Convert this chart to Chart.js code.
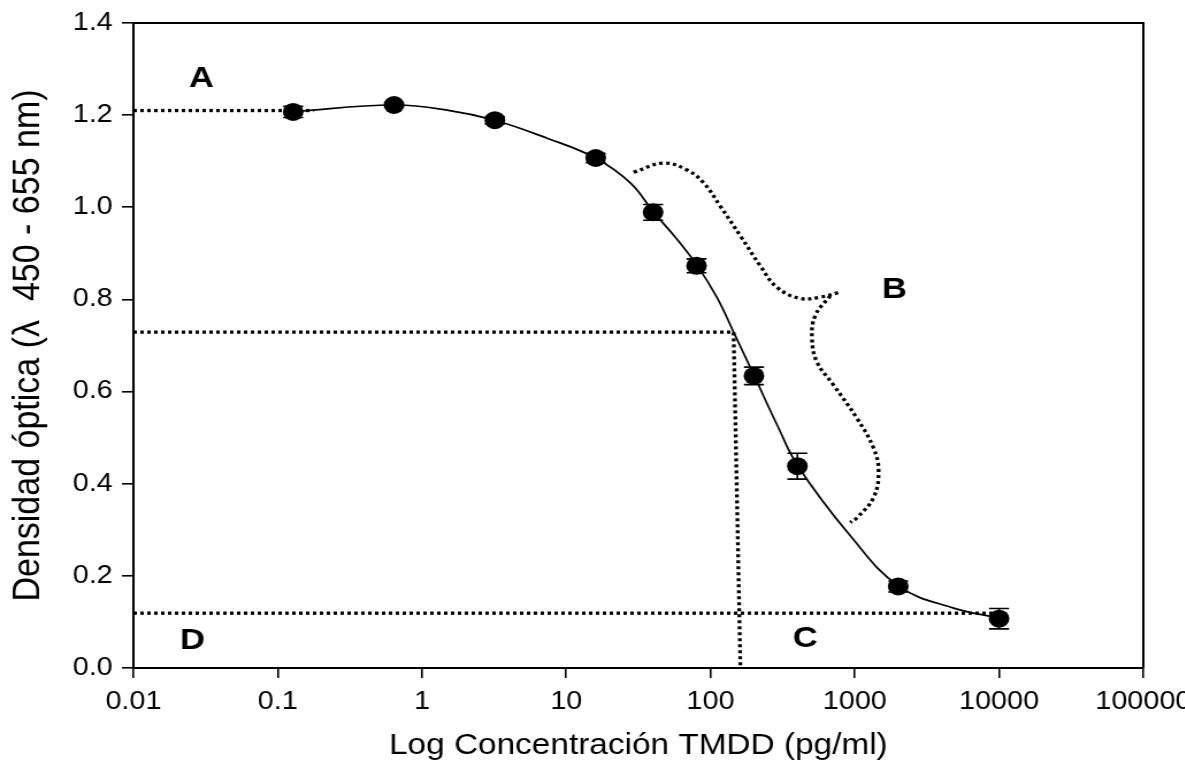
<!DOCTYPE html>
<html lang="es">
<head>
  <meta charset="UTF-8" />
  <title>Curva estándar TMDD</title>
  <script src="https://cdn.jsdelivr.net/npm/chart.js"></script>
  <style>
    html, body {
      margin: 0;
      padding: 0;
      background: #ffffff;
      overflow: hidden;
    }
    #wrap {
      width: 1185px;
      height: 775px;
      overflow: hidden;
    }
    canvas {
      display: block;
    }
  </style>
</head>
<body>
  <div id="wrap">
    <!-- drawn a bit narrow, then stretched sideways like the original figure -->
    <canvas id="curve" width="1045" height="775" style="width:1202px;height:775px"></canvas>
  </div>

  <script>
    // measured standards
    const concentration = [0.128, 0.64, 3.2, 16, 40, 80, 200, 400, 2000, 10000];
    const opticalDensity = [1.207, 1.222, 1.189, 1.107, 0.989, 0.873, 0.634, 0.438, 0.177, 0.107];
    const densityError = [0.012, 0.005, 0.008, 0.010, 0.017, 0.015, 0.019, 0.028, 0.012, 0.022];

    // fitted curve
    const fitX = [0.128, 0.637, 1.49, 3.19, 7.36, 15.9, 27.8, 40.4, 57, 80.6, 111, 144.5, 201, 289, 404, 931, 2034, 4840, 10190];
    const fitY = [1.208, 1.222, 1.211, 1.189, 1.150, 1.107, 1.053, 0.989, 0.935, 0.874, 0.804, 0.729, 0.634, 0.528, 0.438, 0.287, 0.177, 0.130, 0.108];

    // dotted guide lines
    const topGuideX = [0.01, 0.177];
    const topGuideY = [1.21, 1.21];
    const midGuideX = [0.01, 144.5, 161];
    const midGuideY = [0.729, 0.729, 0.005];
    const lowGuideX = [0.01, 9120];
    const lowGuideY = [0.119, 0.119];

    // dotted brace next to B
    const braceTopX = [29.3, 47.3, 68.7, 89.6, 117, 161, 221, 289, 419, 577, 773];
    const braceTopY = [1.076, 1.096, 1.081, 1.053, 1.002, 0.938, 0.873, 0.826, 0.802, 0.805, 0.815];
    const braceLowX = [676, 532, 505, 547, 713, 1035, 1350, 1462, 1350, 1035, 931];
    const braceLowY = [0.808, 0.765, 0.715, 0.664, 0.614, 0.542, 0.477, 0.427, 0.370, 0.326, 0.316];

    // region letters
    const letterText = ['A', 'B', 'C', 'D'];
    const letterX = [0.0296, 1879, 454, 0.0257];
    const letterY = [1.279, 0.822, 0.063, 0.060];

    // axes
    const xTickValues = [0.01, 0.1, 1, 10, 100, 1000, 10000, 100000];
    const xTickLabels = ['0.01', '0.1', '1', '10', '100', '1000', '10000', '100000'];
    const yTickValues = [0, 0.2, 0.4, 0.6, 0.8, 1.0, 1.2, 1.4];

    const fontFamily = '"Liberation Sans", Arial, Helvetica, sans-serif';

    const pairs = (xs, ys) => xs.map((x, i) => ({ x: x, y: ys[i] }));

    const dotted = {
      showLine: true,
      borderColor: '#000000',
      borderWidth: 3.3,
      borderDash: [3, 3],
      pointRadius: 0,
      fill: false,
      order: 3
    };

    const errorBars = {
      id: 'errorBars',
      afterDatasetsDraw(chart) {
        const ctx = chart.ctx;
        const meta = chart.getDatasetMeta(0);
        const yScale = chart.scales.y;
        ctx.save();
        ctx.strokeStyle = '#000000';
        ctx.lineWidth = 1.6;
        meta.data.forEach((pt, i) => {
          const hi = yScale.getPixelForValue(opticalDensity[i] + densityError[i]);
          const lo = yScale.getPixelForValue(opticalDensity[i] - densityError[i]);
          ctx.beginPath();
          ctx.moveTo(pt.x, hi);
          ctx.lineTo(pt.x, lo);
          ctx.moveTo(pt.x - 8.7, hi);
          ctx.lineTo(pt.x + 8.7, hi);
          ctx.moveTo(pt.x - 8.7, lo);
          ctx.lineTo(pt.x + 8.7, lo);
          ctx.stroke();
        });
        ctx.restore();
      }
    };

    const letters = {
      id: 'letters',
      afterDatasetsDraw(chart) {
        const ctx = chart.ctx;
        ctx.save();
        ctx.fillStyle = '#000000';
        ctx.font = 'bold 30px ' + fontFamily;
        ctx.textAlign = 'center';
        ctx.textBaseline = 'middle';
        letterText.forEach((t, i) => {
          ctx.fillText(t, chart.scales.x.getPixelForValue(letterX[i]), chart.scales.y.getPixelForValue(letterY[i]));
        });
        ctx.restore();
      }
    };

    // top and right edges of the box
    const frame = {
      id: 'frame',
      afterDraw(chart) {
        const a = chart.chartArea;
        const ctx = chart.ctx;
        ctx.save();
        ctx.strokeStyle = '#000000';
        ctx.lineWidth = 2;
        ctx.beginPath();
        ctx.moveTo(a.left, a.top);
        ctx.lineTo(a.right, a.top);
        ctx.lineTo(a.right, a.bottom);
        ctx.stroke();
        ctx.restore();
      }
    };

    const ctx = document.getElementById('curve').getContext('2d');

    new Chart(ctx, {
      type: 'scatter',
      data: {
        datasets: [
          {
            label: 'Estándares',
            data: pairs(concentration, opticalDensity),
            pointRadius: 9,
            pointHoverRadius: 9,
            pointBackgroundColor: '#000000',
            pointBorderColor: '#000000',
            pointBorderWidth: 0,
            showLine: false,
            order: 0
          },
          {
            label: 'Ajuste',
            data: pairs(fitX, fitY),
            showLine: true,
            borderColor: '#000000',
            borderWidth: 1.7,
            pointRadius: 0,
            tension: 0.4,
            order: 1
          },
          Object.assign({ label: 'A', data: pairs(topGuideX, topGuideY) }, dotted),
          Object.assign({ label: 'IC50', data: pairs(midGuideX, midGuideY) }, dotted),
          Object.assign({ label: 'D', data: pairs(lowGuideX, lowGuideY) }, dotted),
          Object.assign({ label: 'B1', data: pairs(braceTopX, braceTopY), tension: 0.4 }, dotted),
          Object.assign({ label: 'B2', data: pairs(braceLowX, braceLowY), tension: 0.4 }, dotted)
        ]
      },
      options: {
        responsive: false,
        animation: false,
        devicePixelRatio: 1,
        layout: {
          padding: { left: 0, top: 19, right: 51, bottom: 0 }
        },
        plugins: {
          legend: { display: false },
          tooltip: { enabled: false }
        },
        scales: {
          x: {
            type: 'logarithmic',
            min: 0.01,
            max: 100000,
            afterBuildTicks: s => { s.ticks = xTickValues.map(v => ({ value: v })); },
            afterFit: s => { s.height = 107; },
            ticks: {
              autoSkip: false,
              maxRotation: 0,
              color: '#000000',
              padding: 9,
              font: { family: fontFamily, size: 25 },
              callback: (v, i) => xTickLabels[i]
            },
            grid: {
              drawOnChartArea: false,
              drawTicks: true,
              tickLength: 10,
              color: '#000000',
              lineWidth: 1.6
            },
            border: { display: true, color: '#000000', width: 2 },
            title: {
              display: true,
              text: 'Log Concentración TMDD (pg/ml)',
              color: '#000000',
              font: { family: fontFamily, size: 29 },
              padding: { top: 0, bottom: 12 }
            }
          },
          y: {
            min: 0,
            max: 1.4,
            afterBuildTicks: s => { s.ticks = yTickValues.map(v => ({ value: v })); },
            afterFit: s => { s.width = 116; },
            ticks: {
              color: '#000000',
              padding: 8,
              font: { family: fontFamily, size: 25 },
              callback: v => v.toFixed(1)
            },
            grid: {
              drawOnChartArea: false,
              drawTicks: true,
              tickLength: 10,
              color: '#000000',
              lineWidth: 1.6
            },
            border: { display: true, color: '#000000', width: 2 },
            title: {
              display: true,
              text: 'Densidad óptica (λ  450 - 655 nm)',
              color: '#000000',
              font: { family: fontFamily, size: 34 },
              padding: { top: 4, bottom: 0 }
            }
          }
        }
      },
      plugins: [errorBars, letters, frame]
    });
  </script>
</body>
</html>
